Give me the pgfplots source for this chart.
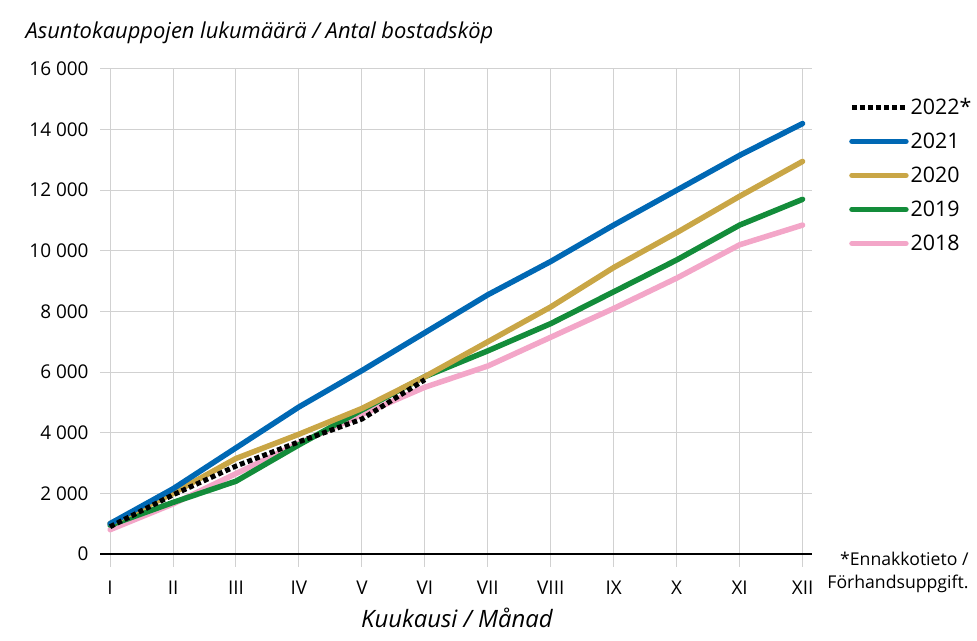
\documentclass[border=0pt]{standalone}
\usepackage{pgfplots}
\pgfplotsset{compat=1.18}
\usepackage{fontspec}
\setmainfont{Open Sans}
\definecolor{c22}{HTML}{000000}
\definecolor{c21}{HTML}{0068B4}
\definecolor{c20}{HTML}{C9A646}
\definecolor{c19}{HTML}{138C3A}
\definecolor{c18}{HTML}{F3A6C8}
\begin{document}
\begin{tikzpicture}[x=1bp,y=1bp]
\path[use as bounding box] (0,0) rectangle (977,641);
\begin{axis}[at={(100bp,74bp)}, anchor=south west, scale only axis,
  width=712bp, height=498bp,
  xmin=0.84, xmax=12.15, ymin=-430, ymax=16000,
  axis line style={draw=none}, major tick length=0pt,
  grid=major, grid style={black!18, line width=1pt},
  xtick={1,...,12}, xticklabels={I,II,III,IV,V,VI,VII,VIII,IX,X,XI,XII},
  ytick={2000,4000,...,16000}, scaled y ticks=false,
  extra y ticks={0}, extra y tick style={grid style={black, line width=1.3pt}},
  tick label style={font=\fontsize{19}{21}\selectfont},
  yticklabel style={xshift=-8bp},
  xticklabel style={yshift=-10bp},
  /pgf/number format/.cd, 1000 sep={\ }, assume math mode=true,
  /pgfplots/.cd,
  legend style={at={(1,1)}, anchor=north west, xshift=34bp, yshift=-25bp, draw=none, fill=none,
    font=\fontsize{21.5}{23}\selectfont, row sep=13bp,
    /tikz/every even column/.style={column sep=12bp}},
  legend cell align=left, reverse legend,
  legend image code/.code={\draw[#1] (0bp,0bp) -- (54bp,0bp);},
  every axis plot/.append style={line width=5.5bp, line cap=round, line join=round},
]
\addplot[c18] coordinates {(1,800) (2,1650) (3,2650) (4,3650) (5,4600) (6,5500) (7,6200) (8,7150) (9,8100) (10,9100) (11,10200) (12,10850)};
\addlegendentry{2018}
\addplot[c19] coordinates {(1,950) (2,1700) (3,2400) (4,3600) (5,4750) (6,5850) (7,6700) (8,7600) (9,8650) (10,9700) (11,10850) (12,11700)};
\addlegendentry{2019}
\addplot[c20] coordinates {(1,1000) (2,2000) (3,3150) (4,3950) (5,4800) (6,5850) (7,7000) (8,8150) (9,9450) (10,10600) (11,11800) (12,12950)};
\addlegendentry{2020}
\addplot[c21] coordinates {(1,1000) (2,2150) (3,3500) (4,4850) (5,6050) (6,7300) (7,8550) (8,9650) (9,10850) (10,12000) (11,13150) (12,14200)};
\addlegendentry{2021}
\addplot[c22, line width=5bp, line cap=butt, dash pattern=on 5bp off 3bp] coordinates {(1,900) (2,1950) (3,2900) (4,3700) (5,4450) (6,5750)};
\addlegendentry{2022*}
\end{axis}
\node[anchor=west] at (22,608) {\fontsize{22}{24}\selectfont\itshape Asuntokauppojen lukumäärä / Antal bostadsköp};
\node at (457,23) {\fontsize{24}{26}\selectfont\itshape Kuukausi / Månad};
\node[anchor=east, align=right, font=\fontsize{17.7}{23}\selectfont] at (972,69) {*Ennakkotieto /\\Förhandsuppgift.};
\end{tikzpicture}
\end{document}
